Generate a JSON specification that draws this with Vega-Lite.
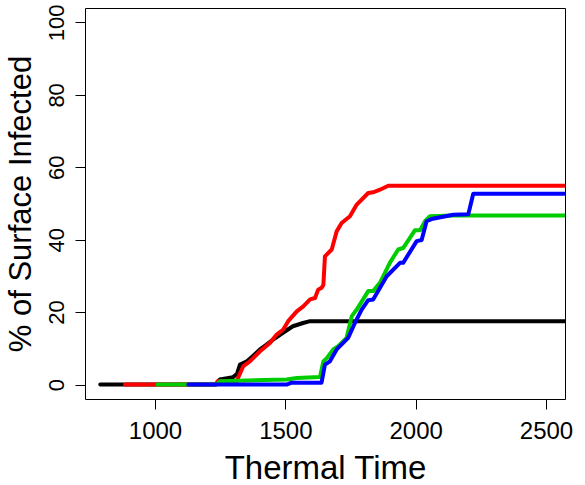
{
  "$schema": "https://vega.github.io/schema/vega-lite/v6.json",
  "width": 480,
  "height": 391,
  "autosize": "none",
  "padding": {"left": 85, "top": 8, "right": 20, "bottom": 86},
  "background": "white",
  "config": {
    "view": {"stroke": "black", "strokeWidth": 1},
    "axis": {
      "domain": false,
      "grid": false,
      "tickColor": "black",
      "tickSize": 10,
      "tickWidth": 1,
      "labelFont": "Liberation Sans",
      "labelColor": "black",
      "titleFont": "Liberation Sans",
      "titleFontWeight": "normal",
      "titleColor": "black"
    }
  },
  "data": {
    "values": [
      {"t": 790, "pct": 0, "s": "A"}, {"t": 1234, "pct": 0, "s": "A"}, {"t": 1249, "pct": 1.4, "s": "A"},
      {"t": 1299, "pct": 2.0, "s": "A"}, {"t": 1315, "pct": 3.0, "s": "A"}, {"t": 1326, "pct": 5.5, "s": "A"},
      {"t": 1353, "pct": 6.4, "s": "A"}, {"t": 1378, "pct": 8.0, "s": "A"}, {"t": 1403, "pct": 9.7, "s": "A"},
      {"t": 1428, "pct": 11.0, "s": "A"}, {"t": 1453, "pct": 12.4, "s": "A"}, {"t": 1491, "pct": 14.3, "s": "A"},
      {"t": 1529, "pct": 16.1, "s": "A"}, {"t": 1568, "pct": 17.0, "s": "A"}, {"t": 1595, "pct": 17.5, "s": "A"},
      {"t": 2600, "pct": 17.5, "s": "A"},

      {"t": 885, "pct": 0, "s": "B"}, {"t": 1234, "pct": 0, "s": "B"}, {"t": 1240, "pct": 0.9, "s": "B"},
      {"t": 1313, "pct": 0.9, "s": "B"}, {"t": 1339, "pct": 5.1, "s": "B"}, {"t": 1364, "pct": 6.4, "s": "B"},
      {"t": 1403, "pct": 9.2, "s": "B"}, {"t": 1441, "pct": 11.5, "s": "B"}, {"t": 1467, "pct": 13.8, "s": "B"},
      {"t": 1492, "pct": 15.2, "s": "B"}, {"t": 1511, "pct": 17.5, "s": "B"}, {"t": 1544, "pct": 20.2, "s": "B"},
      {"t": 1569, "pct": 21.6, "s": "B"}, {"t": 1595, "pct": 23.5, "s": "B"}, {"t": 1614, "pct": 23.9, "s": "B"},
      {"t": 1626, "pct": 26.2, "s": "B"}, {"t": 1639, "pct": 26.7, "s": "B"}, {"t": 1646, "pct": 27.5, "s": "B"},
      {"t": 1652, "pct": 35.4, "s": "B"}, {"t": 1678, "pct": 37.3, "s": "B"}, {"t": 1697, "pct": 42.3, "s": "B"},
      {"t": 1716, "pct": 44.6, "s": "B"}, {"t": 1748, "pct": 46.5, "s": "B"}, {"t": 1774, "pct": 49.7, "s": "B"},
      {"t": 1818, "pct": 52.9, "s": "B"}, {"t": 1837, "pct": 53.1, "s": "B"}, {"t": 1863, "pct": 53.8, "s": "B"},
      {"t": 1895, "pct": 54.9, "s": "B"}, {"t": 2600, "pct": 54.9, "s": "B"},

      {"t": 1010, "pct": 0, "s": "C"}, {"t": 1234, "pct": 0, "s": "C"}, {"t": 1250, "pct": 0.9, "s": "C"},
      {"t": 1505, "pct": 1.4, "s": "C"}, {"t": 1544, "pct": 1.8, "s": "C"}, {"t": 1633, "pct": 2.1, "s": "C"},
      {"t": 1646, "pct": 6.4, "s": "C"}, {"t": 1659, "pct": 7.3, "s": "C"}, {"t": 1684, "pct": 9.7, "s": "C"},
      {"t": 1703, "pct": 10.6, "s": "C"}, {"t": 1735, "pct": 12.9, "s": "C"}, {"t": 1755, "pct": 18.9, "s": "C"},
      {"t": 1774, "pct": 20.7, "s": "C"}, {"t": 1818, "pct": 25.8, "s": "C"}, {"t": 1837, "pct": 25.8, "s": "C"},
      {"t": 1863, "pct": 28.1, "s": "C"}, {"t": 1901, "pct": 33.6, "s": "C"}, {"t": 1933, "pct": 37.3, "s": "C"},
      {"t": 1952, "pct": 37.7, "s": "C"}, {"t": 1997, "pct": 42.6, "s": "C"}, {"t": 2017, "pct": 42.6, "s": "C"},
      {"t": 2036, "pct": 45.1, "s": "C"}, {"t": 2055, "pct": 46.5, "s": "C"}, {"t": 2144, "pct": 46.7, "s": "C"},
      {"t": 2600, "pct": 46.7, "s": "C"},

      {"t": 1128, "pct": 0, "s": "D"}, {"t": 1505, "pct": 0, "s": "D"}, {"t": 1524, "pct": 0.5, "s": "D"},
      {"t": 1639, "pct": 0.5, "s": "D"}, {"t": 1652, "pct": 5.5, "s": "D"}, {"t": 1671, "pct": 6.4, "s": "D"},
      {"t": 1697, "pct": 9.7, "s": "D"}, {"t": 1741, "pct": 12.9, "s": "D"}, {"t": 1767, "pct": 17.0, "s": "D"},
      {"t": 1793, "pct": 20.7, "s": "D"}, {"t": 1818, "pct": 23.3, "s": "D"}, {"t": 1837, "pct": 23.5, "s": "D"},
      {"t": 1889, "pct": 29.9, "s": "D"}, {"t": 1940, "pct": 33.6, "s": "D"}, {"t": 1952, "pct": 33.6, "s": "D"},
      {"t": 2004, "pct": 39.6, "s": "D"}, {"t": 2023, "pct": 39.9, "s": "D"}, {"t": 2042, "pct": 45.1, "s": "D"},
      {"t": 2061, "pct": 45.7, "s": "D"}, {"t": 2144, "pct": 46.9, "s": "D"}, {"t": 2202, "pct": 47.0, "s": "D"},
      {"t": 2221, "pct": 52.7, "s": "D"}, {"t": 2600, "pct": 52.7, "s": "D"}
    ]
  },
  "mark": {"type": "line", "strokeWidth": 4, "strokeCap": "round", "strokeJoin": "round", "clip": true},
  "encoding": {
    "x": {
      "field": "t",
      "type": "quantitative",
      "scale": {"domain": [731.5, 2573], "nice": false, "zero": false},
      "axis": {
        "values": [1000, 1500, 2000, 2500],
        "format": "d",
        "title": "Thermal Time",
        "labelFontSize": 24,
        "labelBaseline": "alphabetic",
        "labelPadding": 29,
        "titleFontSize": 33,
        "titleBaseline": "alphabetic",
        "titleX": 240,
        "titleY": 79,
        "titleAlign": "center"
      }
    },
    "y": {
      "field": "pct",
      "type": "quantitative",
      "scale": {"domain": [-4, 104], "nice": false, "zero": false},
      "axis": {
        "values": [0, 20, 40, 60, 80, 100],
        "format": "d",
        "title": "% of Surface Infected",
        "labelFontSize": 22,
        "labelAngle": -90,
        "labelAlign": "center",
        "labelBaseline": "alphabetic",
        "labelPadding": 12,
        "titleFontSize": 31,
        "titleAngle": -90,
        "titleAlign": "center",
        "titleBaseline": "alphabetic",
        "titleX": -55,
        "titleY": 195.5
      }
    },
    "color": {
      "field": "s",
      "type": "nominal",
      "scale": {"domain": ["A", "B", "C", "D"], "range": ["#000000", "#ff0000", "#00cd00", "#0000ff"]},
      "legend": null
    }
  }
}
